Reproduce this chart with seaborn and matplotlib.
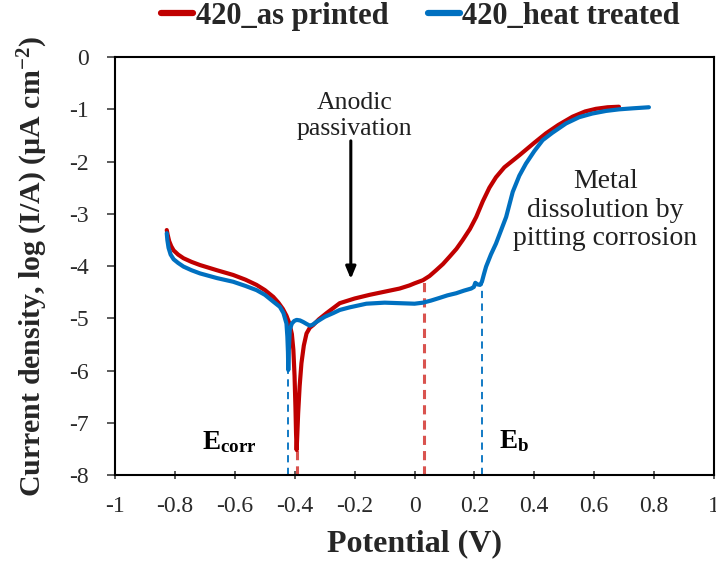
import numpy as np
import pandas as pd
import matplotlib
matplotlib.use("Agg")
import matplotlib.pyplot as plt
import seaborn as sns

# ---------------- data ----------------
series_names = ["420_as printed", "420_heat treated"]
series_colors = ["#C00000", "#0070C0"]

printed_x = [-0.828, -0.825, -0.82, -0.813, -0.805, -0.79, -0.772, -0.745, -0.717, -0.66, -0.606,
             -0.565, -0.528, -0.50, -0.472, -0.455, -0.44, -0.428, -0.418, -0.41, -0.405,
             -0.401, -0.398, -0.396, -0.394, -0.392, -0.389, -0.384, -0.378, -0.37, -0.361,
             -0.35, -0.339, -0.32, -0.294, -0.25, -0.20, -0.15, -0.10, -0.05, -0.017,
             0.0, 0.028, 0.05, 0.072, 0.095, 0.117, 0.14, 0.161, 0.185, 0.206,
             0.228, 0.25, 0.272, 0.30, 0.35, 0.40, 0.439, 0.48, 0.528, 0.57,
             0.606, 0.645, 0.683]
printed_y = [-3.31, -3.40, -3.52, -3.62, -3.70, -3.78, -3.85, -3.92, -3.98, -4.08, -4.17,
             -4.26, -4.36, -4.46, -4.59, -4.70, -4.82, -4.95, -5.10, -5.30, -5.60,
             -6.10, -6.70, -7.20, -7.52, -7.25, -6.82, -6.30, -5.86, -5.52, -5.29,
             -5.18, -5.13, -5.02, -4.90, -4.71, -4.62, -4.55, -4.49, -4.43, -4.37,
             -4.33, -4.27, -4.19, -4.08, -3.96, -3.82, -3.67, -3.50, -3.29, -3.06,
             -2.76, -2.50, -2.30, -2.11, -1.88, -1.64, -1.46, -1.30, -1.14, -1.04,
             -0.99, -0.96, -0.95]

treated_x = [-0.828, -0.826, -0.822, -0.815, -0.805, -0.79, -0.772, -0.745, -0.717, -0.66, -0.606,
             -0.565, -0.528, -0.50, -0.472, -0.45, -0.438, -0.428, -0.425, -0.423, -0.422,
             -0.420, -0.417, -0.41, -0.402, -0.394, -0.383, -0.372, -0.36, -0.35, -0.34,
             -0.328, -0.30, -0.272, -0.25, -0.217, -0.161, -0.10, -0.05, 0.0, 0.028,
             0.055, 0.083, 0.11, 0.139, 0.165, 0.189, 0.198, 0.203, 0.21, 0.219,
             0.225, 0.232, 0.239, 0.255, 0.272, 0.29, 0.306, 0.328, 0.35, 0.372,
             0.40, 0.428, 0.46, 0.506, 0.55, 0.594, 0.64, 0.683, 0.73, 0.783]
treated_y = [-3.37, -3.50, -3.65, -3.78, -3.87, -3.94, -4.01, -4.08, -4.14, -4.23, -4.30,
             -4.38, -4.46, -4.55, -4.68, -4.78, -4.90, -5.10, -5.35, -5.65, -5.99,
             -5.60, -5.22, -5.10, -5.05, -5.03, -5.04, -5.07, -5.11, -5.14, -5.12,
             -5.07, -4.97, -4.90, -4.84, -4.79, -4.72, -4.70, -4.71, -4.72, -4.70,
             -4.66, -4.61, -4.56, -4.52, -4.47, -4.43, -4.40, -4.32, -4.35, -4.36,
             -4.30, -4.15, -4.01, -3.78, -3.57, -3.30, -3.06, -2.58, -2.27, -2.04,
             -1.80, -1.59, -1.45, -1.27, -1.15, -1.08, -1.03, -1.00, -0.98, -0.96]

# marker potentials (Ecorr and Eb) and the current where each dashed line starts
marker_x = [-0.423, -0.394, 0.03, 0.225]
marker_top = [-5.99, -7.52, -4.27, -4.33]
marker_series = [1, 0, 0, 1]

x_ticks = [-1, -0.8, -0.6, -0.4, -0.2, 0, 0.2, 0.4, 0.6, 0.8, 1]
x_tick_labels = ["-1", "-0.8", "-0.6", "-0.4", "-0.2", "0", "0.2", "0.4", "0.6", "0.8", "1"]
y_ticks = [0, -1, -2, -3, -4, -5, -6, -7, -8]
y_tick_labels = ["0", "-1", "-2", "-3", "-4", "-5", "-6", "-7", "-8"]

# ---------------- style ----------------
sns.set_theme(style="ticks")
plt.rcParams["font.family"] = ["Liberation Serif", "DejaVu Serif"]
plt.rcParams["mathtext.fontset"] = "custom"
plt.rcParams["mathtext.rm"] = "Liberation Serif"
plt.rcParams["mathtext.bf"] = "Liberation Serif:bold"
plt.rcParams["mathtext.it"] = "Liberation Serif:italic"
plt.rcParams["axes.unicode_minus"] = False

df = pd.concat([
    pd.DataFrame({"Potential": printed_x, "Current": printed_y, "Sample": series_names[0]}),
    pd.DataFrame({"Potential": treated_x, "Current": treated_y, "Sample": series_names[1]}),
], ignore_index=True)

fig = plt.figure(figsize=(7.16, 5.71), dpi=100)
ax = fig.add_axes([0.161, 0.168, 0.836, 0.732])

sns.lineplot(data=df, x="Potential", y="Current", hue="Sample",
             palette=dict(zip(series_names, series_colors)),
             sort=False, estimator=None, linewidth=3.0, ax=ax)

# dashed marker lines
for mx, mt, si in zip(marker_x, marker_top, marker_series):
    col = series_colors[si]
    if si == 0:
        ax.vlines(mx, -8, mt, colors="#D9534F", linestyles=(0, (3, 2)), linewidth=2.2, zorder=1)
    else:
        ax.vlines(mx, -8, mt, colors=col, linestyles=(0, (4, 3)), linewidth=1.3, zorder=1)

ax.set_xlim(-1, 1)
ax.set_ylim(-8, 0)
ax.set_xticks(x_ticks)
ax.set_xticklabels(x_tick_labels)
ax.set_yticks(y_ticks)
ax.set_yticklabels(y_tick_labels)
ax.tick_params(axis="both", labelsize=17, colors="#404040", labelcolor="#2a2a2a",
               length=6, width=1.2)
ax.tick_params(axis="x", direction="inout", pad=12)
ax.tick_params(axis="y", direction="out", pad=13)
for sp in ax.spines.values():
    sp.set_visible(True)
    sp.set_color("black")
    sp.set_linewidth(1.5)

ax.set_xlabel("Potential (V)", fontsize=23, fontweight="bold", labelpad=9)
ax.set_ylabel(r"Current density, log (I/A) (µA cm$^{\mathbf{-2}}$)", fontsize=21.5,
              fontweight="bold", labelpad=14)

# annotations
ax.text(-0.2, -1.13, "Anodic\npassivation", ha="center", va="center",
        fontsize=18.5, color="#202020", linespacing=1.25)
ax.annotate("", xy=(-0.213, -4.3), xytext=(-0.213, -1.55),
            arrowprops=dict(arrowstyle="-|>,head_length=0.6,head_width=0.25",
                            color="black", lw=2.2))
ax.text(0.637, -2.93, "Metal\ndissolution by\npitting corrosion", ha="center", va="center",
        fontsize=20, color="#202020", linespacing=1.19)
ax.text(-0.71, -7.37, r"E$_{\mathbf{corr}}$", ha="left", va="center",
        fontsize=19.5, fontweight="bold", color="black")
ax.text(0.283, -7.35, r"E$_{\mathbf{b}}$", ha="left", va="center",
        fontsize=19.5, fontweight="bold", color="black")

# legend on top
sns.move_legend(ax, "center", bbox_to_anchor=(0.51, 1.098), ncol=2, frameon=False,
                title=None, fontsize=22, handlelength=1.05, handletextpad=0.08,
                columnspacing=1.3)
leg = ax.get_legend()
for t in leg.get_texts():
    t.set_fontweight("bold")
for h in leg.get_lines():
    h.set_linewidth(4.5)

fig.savefig("out.png", dpi=100)
